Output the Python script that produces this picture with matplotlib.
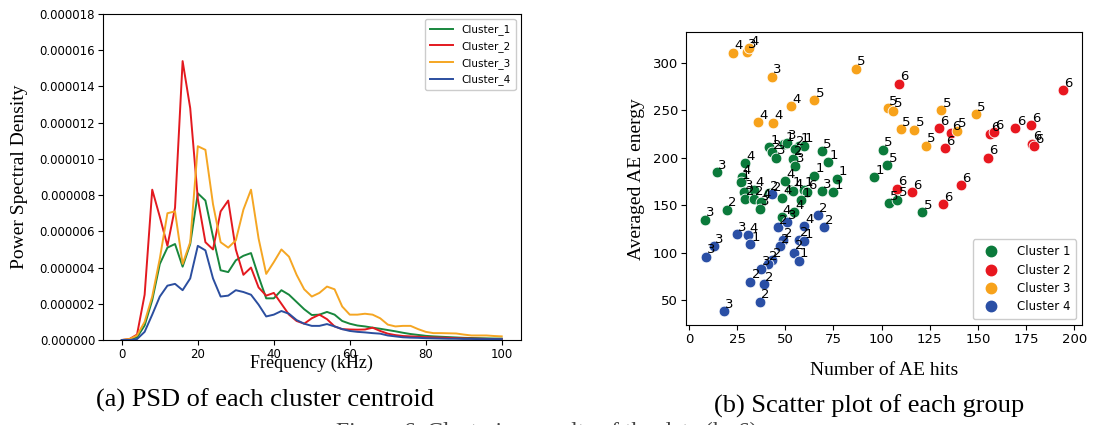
import numpy as np
import matplotlib
matplotlib.use("Agg")
import matplotlib.pyplot as plt
from matplotlib.ticker import FormatStrFormatter
from matplotlib.lines import Line2D

# ---------- PSD of cluster centroids (2 kHz bins) ----------
freq = np.arange(0, 101, 2)

psd_c1 = [0.0, 0.02, 0.15, 0.8, 2.2, 4.2, 5.1, 5.3, 4.05, 5.3, 8.1, 7.7, 5.7, 3.85, 3.75,
          4.4, 4.65, 4.8, 3.5, 2.3, 2.3, 2.75, 2.5, 2.1, 1.7, 1.38, 1.4, 1.55, 1.4, 1.05,
          0.9, 0.8, 0.75, 0.68, 0.62, 0.55, 0.48, 0.4, 0.33, 0.28, 0.23, 0.2, 0.18, 0.16,
          0.14, 0.12, 0.11, 0.1, 0.09, 0.08, 0.08]
psd_c2 = [0.0, 0.05, 0.3, 2.5, 8.3, 6.8, 5.2, 7.3, 15.4, 12.8, 7.8, 5.4, 5.0, 7.1, 7.7,
          5.0, 3.6, 4.0, 2.9, 2.45, 2.6, 2.0, 1.4, 1.05, 0.9, 1.2, 1.4, 1.15, 0.75, 0.6,
          0.58, 0.57, 0.58, 0.68, 0.5, 0.35, 0.27, 0.22, 0.2, 0.18, 0.16, 0.14, 0.13, 0.12,
          0.1, 0.09, 0.08, 0.07, 0.06, 0.05, 0.05]
psd_c3 = [0.0, 0.05, 0.25, 1.0, 2.4, 4.5, 7.0, 7.1, 4.2, 5.4, 10.7, 10.5, 7.5, 5.4, 5.1,
          5.5, 7.2, 8.3, 5.6, 3.65, 4.3, 5.0, 4.6, 3.6, 2.8, 2.4, 2.6, 2.95, 2.8, 1.85,
          1.4, 1.4, 1.45, 1.4, 1.2, 0.85, 0.75, 0.78, 0.78, 0.6, 0.45, 0.38, 0.38, 0.37,
          0.36, 0.3, 0.25, 0.25, 0.25, 0.22, 0.2]
psd_c4 = [0.0, 0.0, 0.05, 0.45, 1.4, 2.4, 3.0, 3.1, 2.75, 3.4, 5.2, 4.95, 3.4, 2.4, 2.45,
          2.75, 2.65, 2.5, 1.95, 1.3, 1.4, 1.6, 1.45, 1.1, 0.9, 0.78, 0.78, 0.88, 0.75, 0.6,
          0.5, 0.45, 0.42, 0.38, 0.35, 0.25, 0.2, 0.15, 0.13, 0.12, 0.1, 0.09, 0.08, 0.07,
          0.07, 0.06, 0.06, 0.05, 0.05, 0.05, 0.05]
psd_names = ["Cluster_1", "Cluster_2", "Cluster_3", "Cluster_4"]

# ---------- scatter of AE hits vs averaged energy ----------
c1_hits = [14.7, 29.1, 27.4, 26.9, 41.7, 43.0, 45.0, 49.5, 51.0, 57.3, 59.7, 55.0, 54.2, 55.0,
           68.9, 72.4, 65.1, 77.0, 49.9, 53.0, 54.2, 59.7, 61.1, 68.9, 75.0, 28.6, 29.1, 33.8,
           41.7, 48.5, 33.9, 37.4, 36.9, 58.2, 19.8, 8.3, 48.2, 54.6, 100.9, 103.0, 96.1,
           104.0, 108.2, 121.2]
c1_energy = [184.8, 194.2, 179.6, 174.3, 211.0, 205.8, 199.9, 214.0, 216.0, 212.8, 212.8, 209.3,
             198.8, 191.8, 206.8, 195.3, 181.3, 177.9, 175.4, 166.3, 164.6, 166.3, 163.8, 164.9,
             163.8, 163.8, 156.9, 166.3, 162.8, 158.0, 156.9, 153.6, 146.5, 155.1, 145.5, 134.9,
             137.6, 143.0, 208.3, 192.1, 179.6, 152.3, 155.9, 142.9]
c1_tags = ["3", "4", "4", "1", "1", "2", "3", "1", "3", "1", "1", "2", "2", "3", "5", "1", "1",
           "1", "4", "1", "4", "1", "6", "3", "1", "3", "2", "4", "2", "4", "2", "4", "3", "1",
           "2", "3", "4", "4", "5", "5", "1", "5", "5", "5"]

c2_hits = [108.9, 193.9, 129.9, 136.1, 156.4, 158.1, 169.5, 177.3, 133.0, 178.0, 179.2, 155.2,
           108.2, 116.0, 141.1, 132.1]
c2_energy = [278.0, 271.0, 230.9, 226.0, 225.0, 226.8, 230.9, 234.5, 210.0, 214.6, 212.0, 199.9,
             167.4, 163.8, 170.9, 150.9]
c2_tags = ["6"] * 16

c3_hits = [23.0, 30.0, 31.2, 43.3, 53.0, 65.1, 36.0, 43.8, 86.8, 103.2, 105.8, 110.1, 117.0,
           131.1, 148.9, 123.1, 139.0]
c3_energy = [310.6, 311.6, 315.5, 285.4, 254.0, 260.7, 237.2, 237.0, 293.8, 252.3, 249.5, 229.9,
             229.6, 250.2, 246.0, 212.8, 228.5]
c3_tags = ["4", "3", "4", "3", "4", "5", "4", "4", "5", "5", "5", "5", "5", "5", "5", "5", "5"]

c4_hits = [43.0, 24.8, 30.8, 32.0, 13.0, 8.8, 46.1, 51.1, 59.9, 67.2, 70.3, 48.7, 47.3, 57.1,
           59.7, 54.7, 57.1, 43.0, 41.2, 37.2, 32.0, 39.0, 37.0, 18.2]
c4_energy = [161.4, 119.5, 118.4, 109.0, 106.9, 95.7, 127.1, 132.4, 128.2, 139.4, 127.1, 113.2,
             106.9, 113.9, 112.5, 100.2, 91.8, 92.2, 88.8, 83.5, 69.5, 67.1, 48.5, 38.8]
c4_tags = ["2", "3", "4", "1", "3", "3", "2", "3", "4", "2", "2", "2", "2", "2", "1", "2", "1",
           "2", "2", "3", "2", "2", "2", "3"]

scatter_names = ["Cluster 1", "Cluster 2", "Cluster 3", "Cluster 4"]

line_colours = ["#18873d", "#e3191f", "#f5a623", "#2b4e9f"]
dot_colours = ["#0b7a3b", "#e8171f", "#f7a21b", "#2a4fa5"]

serif = ["Liberation Serif", "DejaVu Serif"]

fig = plt.figure(figsize=(10.94, 4.25), dpi=100)

# ---------- (a) PSD ----------
ax1 = fig.add_axes([0.094, 0.2, 0.382, 0.767])
for vals, name, col in zip([psd_c1, psd_c2, psd_c3, psd_c4], psd_names, line_colours):
    ax1.plot(freq, np.array(vals) * 1e-6, color=col, lw=1.4, label=name)
ax1.set_xlim(-5, 105)
ax1.set_ylim(0, 1.8e-5)
ax1.set_yticks(np.arange(0, 1.81e-5, 2e-6))
ax1.set_xticks([0, 20, 40, 60, 80, 100])
ax1.yaxis.set_major_formatter(FormatStrFormatter("%.6f"))
ax1.tick_params(labelsize=8.5, length=3.5, pad=2)
ax1.set_ylabel("Power Spectral Density", family=serif, fontsize=14, labelpad=8)
ax1.set_xlabel("Frequency (kHz)", family=serif, fontsize=13, labelpad=-4)
ax1.legend(loc="upper right", fontsize=7.5, handlelength=2.2, borderpad=0.5,
           labelspacing=0.55, framealpha=1)

# ---------- (b) scatter ----------
ax2 = fig.add_axes([0.627, 0.235, 0.362, 0.689])
groups = [(c1_hits, c1_energy, c1_tags), (c2_hits, c2_energy, c2_tags),
          (c3_hits, c3_energy, c3_tags), (c4_hits, c4_energy, c4_tags)]
for (hx, hy, tags), col, name in zip(groups, dot_colours, scatter_names):
    ax2.scatter(hx, hy, s=60, color=col, edgecolor="white", linewidth=0.6, label=name, zorder=2)
    for x, y, t in zip(hx, hy, tags):
        ax2.text(x + 0.6, y + 0.5, t, fontsize=9.5, ha="left", va="bottom", zorder=3)
ax2.set_xlim(-1.5, 204)
ax2.set_ylim(24, 332)
ax2.set_xticks(np.arange(0, 201, 25))
ax2.set_yticks(np.arange(50, 301, 50))
ax2.tick_params(labelsize=9.5, length=3.5, pad=2)
ax2.set_ylabel("Averaged AE energy", family=serif, fontsize=14, labelpad=6)
ax2.set_xlabel("Number of AE hits", family=serif, fontsize=14, labelpad=12)
handles = [Line2D([], [], marker="o", ls="", color=c, markersize=7.5) for c in dot_colours]
ax2.legend(handles, scatter_names, loc="lower right", fontsize=8.5, handletextpad=1.2,
           borderpad=0.5, labelspacing=0.45, framealpha=1)

# captions
fig.text(0.242, 0.058, "(a) PSD of each cluster centroid", family=serif, fontsize=19,
         ha="center", va="center")
fig.text(0.794, 0.045, "(b) Scatter plot of each group", family=serif, fontsize=19,
         ha="center", va="center")
fig.text(0.5, -0.03, "Figure 6. Clustering results of the data (k=6)", family=serif,
         fontsize=17, ha="center", va="baseline", color="#444444")

fig.savefig("out.png", dpi=100)
